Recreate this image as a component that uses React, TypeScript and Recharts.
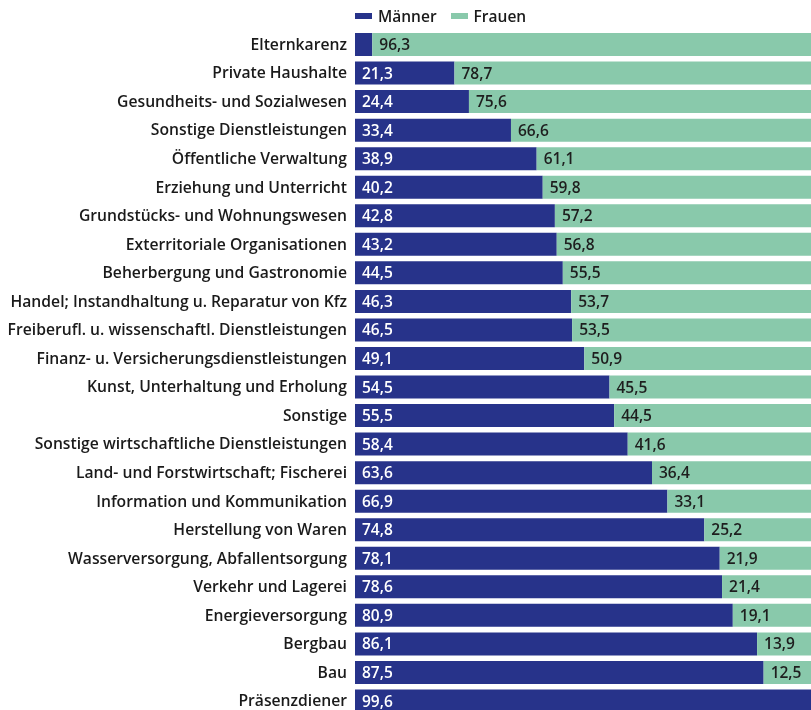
import { Bar, BarChart, LabelList, Legend, XAxis, YAxis } from "recharts";

const categories = [
  "Elternkarenz",
  "Private Haushalte",
  "Gesundheits- und Sozialwesen",
  "Sonstige Dienstleistungen",
  "Öffentliche Verwaltung",
  "Erziehung und Unterricht",
  "Grundstücks- und Wohnungswesen",
  "Exterritoriale Organisationen",
  "Beherbergung und Gastronomie",
  "Handel; Instandhaltung u. Reparatur von Kfz",
  "Freiberufl. u. wissenschaftl. Dienstleistungen",
  "Finanz- u. Versicherungsdienstleistungen",
  "Kunst, Unterhaltung und Erholung",
  "Sonstige",
  "Sonstige wirtschaftliche Dienstleistungen",
  "Land- und Forstwirtschaft; Fischerei",
  "Information und Kommunikation",
  "Herstellung von Waren",
  "Wasserversorgung, Abfallentsorgung",
  "Verkehr und Lagerei",
  "Energieversorgung",
  "Bergbau",
  "Bau",
  "Präsenzdiener",
];

const maenner = [
  3.7, 21.3, 24.4, 33.4, 38.9, 40.2, 42.8, 43.2, 44.5, 46.3, 46.5, 49.1,
  54.5, 55.5, 58.4, 63.6, 66.9, 74.8, 78.1, 78.6, 80.9, 86.1, 87.5, 99.6,
];

const frauen = [
  96.3, 78.7, 75.6, 66.6, 61.1, 59.8, 57.2, 56.8, 55.5, 53.7, 53.5, 50.9,
  45.5, 44.5, 41.6, 36.4, 33.1, 25.2, 21.9, 21.4, 19.1, 13.9, 12.5, 0.4,
];

const seriesNames = ["Männer", "Frauen"];

const BLUE = "#27338a";
const GREEN = "#89c9ab";
const TEXT = "#1a1a1a";
const FONT = "'Open Sans', sans-serif";

const rows = categories.map((name, i) => ({
  name,
  m: maenner[i],
  f: frauen[i],
}));

const fmt = (v: number) => v.toFixed(1).replace(".", ",");

// small shares are left unlabeled, the bar segment is too narrow for text
const makeLabel = (color: string) => (props: any) => {
  const { x, y, height, value } = props;
  if (value < 5) return null;
  return (
    <text
      x={Number(x) + 7}
      y={Number(y) + Number(height) / 2}
      dy="0.36em"
      fill={color}
      fontSize={15.5}
      fontWeight={600}
      fontFamily={FONT}
    >
      {fmt(value)}
    </text>
  );
};

const LegendContent = () => (
  <div
    style={{
      height: 30,
      boxSizing: "border-box",
      paddingTop: 2,
      display: "flex",
      alignItems: "center",
      paddingLeft: 355,
      fontFamily: FONT,
      fontSize: 15.5,
      fontWeight: 600,
      color: TEXT,
    }}
  >
    {seriesNames.map((s, i) => (
      <span key={s} style={{ display: "flex", alignItems: "center", marginRight: 14 }}>
        <span
          style={{
            display: "inline-block",
            width: 17,
            height: 6,
            background: i === 0 ? BLUE : GREEN,
            marginRight: 6,
          }}
        />
        {s}
      </span>
    ))}
  </div>
);

export default function App() {
  return (
    <div style={{ position: "fixed", top: 0, left: 0, width: 811, height: 710, overflow: "hidden" }}>
      <BarChart
        width={822}
        height={715}
        data={rows}
        layout="vertical"
        margin={{ top: 0, right: 0, bottom: 0, left: 0 }}
        barSize={23}
        style={{ fontFamily: FONT }}
      >
        <XAxis type="number" domain={[0, 100]} hide />
        <YAxis
          type="category"
          dataKey="name"
          width={355}
          axisLine={false}
          tickLine={false}
          interval={0}
          tick={{ fill: TEXT, fontSize: 15.7, fontWeight: 600, fontFamily: FONT }}
        />
        <Legend verticalAlign="top" content={<LegendContent />} wrapperStyle={{ top: 0, left: 0 }} />
        <Bar dataKey="m" name="Männer" stackId="a" fill={BLUE} isAnimationActive={false}>
          <LabelList dataKey="m" content={makeLabel("#ffffff")} />
        </Bar>
        <Bar dataKey="f" name="Frauen" stackId="a" fill={GREEN} isAnimationActive={false}>
          <LabelList dataKey="f" content={makeLabel("#1e1e1e")} />
        </Bar>
      </BarChart>
    </div>
  );
}
